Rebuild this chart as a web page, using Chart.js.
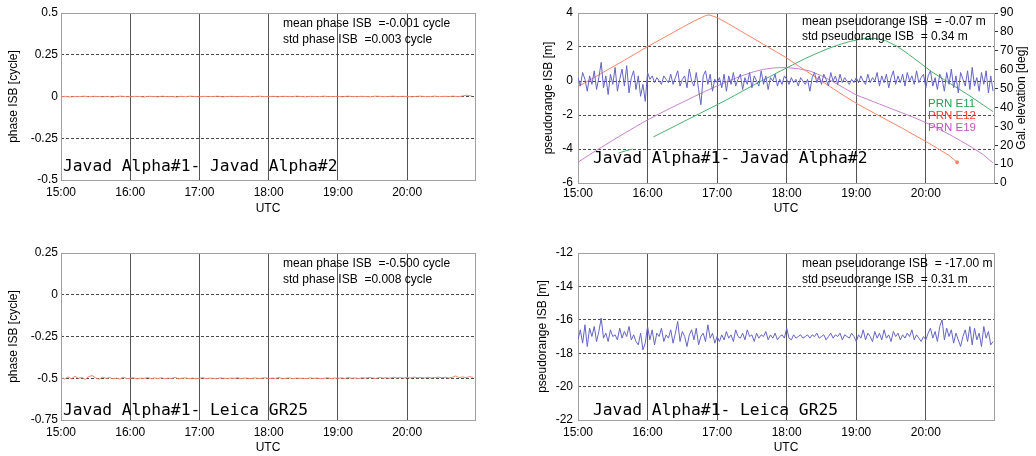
<!DOCTYPE html>
<html>
<head>
<meta charset="utf-8">
<script src="https://cdn.jsdelivr.net/npm/chart.js@4.4.1/dist/chart.umd.min.js"></script>
<style>
  body { margin: 0; background: #fff; }
  #wrap { position: relative; width: 1036px; height: 456px; }
  canvas { position: absolute; }
</style>
</head>
<body>
<div id="wrap">
  <canvas id="phase-alpha" width="518" height="228" style="left:0;top:0"></canvas>
  <canvas id="code-alpha" width="518" height="228" style="left:518px;top:0"></canvas>
  <canvas id="phase-leica" width="518" height="228" style="left:0;top:228px"></canvas>
  <canvas id="code-leica" width="518" height="228" style="left:518px;top:228px"></canvas>
</div>
<script>
// tick labels
const hourTicks = [15, 16, 17, 18, 19, 20];
const phaseTicksAlpha = [0.5, 0.25, 0, -0.25, -0.5];
const phaseTicksLeica = [0.25, 0, -0.25, -0.5, -0.75];
const codeTicksAlpha = [4, 2, 0, -2, -4, -6];
const codeTicksLeica = [-12, -14, -16, -18, -20, -22];
const elevTicks = [0, 10, 20, 30, 40, 50, 60, 70, 80, 90];

// phase ISB, Javad Alpha#1 - Javad Alpha#2 [cycle], one epoch every 4 min from 15:00
const phaseAlphaStep = 4;
const phaseAlpha = [
  -0.002, 0.001, -0.003, 0.000, -0.001, 0.002, -0.002, 0.001, 0.000, -0.002,
  0.001, -0.003, 0.000, 0.002, -0.001, -0.002, 0.001, 0.000, -0.003, 0.001,
  0.000, -0.002, 0.002, -0.001, 0.000, -0.003, 0.001, -0.001, 0.002, 0.000,
  -0.002, 0.001, -0.001, 0.000, 0.002, -0.002, 0.000, 0.001, -0.001, 0.000,
  0.001, -0.002, 0.000, 0.002, -0.001, 0.000, 0.001, -0.002, 0.001, 0.000,
  -0.001, 0.002, 0.000, -0.002, 0.001, 0.000, -0.001, 0.002, -0.001, 0.000,
  0.001, -0.002, 0.002, 0.000, -0.001, 0.001, 0.000, -0.002, 0.002, 0.001,
  -0.001, 0.000, 0.002, -0.001, 0.001, 0.000, -0.002, 0.001, 0.002, -0.001,
  0.000, 0.002, -0.001, 0.001, 0.000, 0.002, -0.001, 0.003, 0.008, 0.002
];

// phase ISB, Javad Alpha#1 - Leica GR25 [cycle], every 3 min
const phaseLeicaStep = 3;
const phaseLeica = [
  -0.497, -0.505, -0.492, -0.503, -0.488, -0.500, -0.495, -0.507, -0.490, -0.484,
  -0.498, -0.506, -0.493, -0.501, -0.496, -0.503, -0.499, -0.505, -0.494, -0.502,
  -0.500, -0.497, -0.504, -0.499, -0.501, -0.496, -0.503, -0.498, -0.502, -0.497,
  -0.503, -0.499, -0.501, -0.495, -0.504, -0.500, -0.498, -0.502, -0.499, -0.503,
  -0.500, -0.497, -0.502, -0.499, -0.501, -0.503, -0.498, -0.500, -0.502, -0.499,
  -0.501, -0.497, -0.503, -0.499, -0.500, -0.502, -0.498, -0.501, -0.500, -0.497,
  -0.502, -0.499, -0.501, -0.496, -0.503, -0.500, -0.498, -0.502, -0.499, -0.501,
  -0.500, -0.502, -0.498, -0.501, -0.499, -0.503, -0.500, -0.497, -0.502, -0.499,
  -0.500, -0.498, -0.501, -0.496, -0.500, -0.498, -0.502, -0.497, -0.499, -0.496,
  -0.498, -0.501, -0.495, -0.499, -0.497, -0.500, -0.494, -0.498, -0.496, -0.499,
  -0.495, -0.498, -0.493, -0.497, -0.495, -0.499, -0.494, -0.497, -0.496, -0.493,
  -0.497, -0.494, -0.498, -0.495, -0.486, -0.496, -0.492, -0.497, -0.490, -0.495
];

// pseudorange ISB [m], every 2 min
const codeStep = 2;
const codeAlpha = [
  0.2, -0.3, 0.5, 0.1, -0.6, 0.3, -0.2, 0.6, -0.5, 0.2,
  1.1, -0.4, 0.3, -0.8, 0.4, -0.2, 0.8, -0.6, 0.1, 0.7,
  -0.3, 0.9, -0.7, 0.2, 0.6, -0.5, 0.3, -0.9, -0.2, -1.2,
  0.5, 0.1, 0.3, -0.1, 0.2, 0.0, -0.2, 0.3, 0.1, -0.1,
  0.4, -0.2, 0.2, 0.6, -0.3, 0.1, 0.3, -0.4, 0.7, 0.0,
  -0.3, 0.5, -0.5, -1.4, 0.3, 0.6, -0.2, 0.4, -0.6, 0.1,
  -0.1, 0.2, -0.4, 0.4, -0.6, 0.3, -0.2, 0.5, -0.3, 0.1,
  0.4, -0.5, 0.2, -0.2, 0.5, -0.4, 0.3, 0.0, -0.3, 0.6,
  -0.2, 0.3, -0.5, 0.2, 0.0, 0.4, -0.3, 0.1, -0.2, 0.3,
  0.1, -0.2, 0.2, -0.1, 0.1, -0.3, 0.2, 0.0, -0.2, 0.1,
  -0.6, 0.2, 0.5, -0.1, 0.3, -0.2, 0.4, 0.1, -0.3, 0.5,
  0.0, 0.3, -0.2, 0.4, -0.1, 0.2, 0.0, -0.2, 0.1, -0.1,
  0.2, -0.1, 0.3, 0.0, -0.2, 0.4, -0.1, 0.2, 0.0, 0.5,
  -0.3, 0.3, -0.1, 0.4, -0.4, 0.2, 0.6, -0.2, 0.3, -0.1,
  0.4, -0.3, 0.5, 0.0, 0.3, -0.2, 0.6, -0.1, 0.2, 0.4,
  -0.4, 0.3, 0.6, -0.3, 0.2, -0.5, 0.4, 0.1, -0.6, 0.5,
  -0.2, 0.7, -0.4, 0.3, -0.7, 0.5, 0.1, -0.3, 0.6, -0.5,
  0.8, -0.3, 0.2, -0.6, 0.5, -0.2, 0.6, -0.7, 0.3, -0.6
];
const codeLeica = [
  -17.2, -16.6, -17.4, -16.3, -17.6, -16.5, -17.0, -16.4, -17.3, -16.7,
  -15.9, -17.1, -16.8, -17.3, -16.6, -17.0, -16.9, -17.2, -16.5, -17.1,
  -16.7, -17.0, -16.4, -17.2, -16.9, -17.3, -17.5, -16.8, -17.8, -17.4,
  -16.4, -17.2, -16.6, -17.5, -16.8, -17.0, -16.5, -17.3, -16.9, -17.1,
  -16.6, -17.4, -16.8, -16.1, -17.3, -16.7, -17.0, -17.6, -16.9, -16.6,
  -17.2, -16.5, -17.5, -17.0, -16.8, -17.3, -16.3, -17.1, -16.8, -17.4,
  -17.0, -17.3, -16.9, -17.2, -16.7, -17.1, -16.9, -17.3, -16.6, -17.0,
  -17.1, -16.8, -17.2, -16.6, -17.0, -16.9, -17.3, -16.8, -17.1, -16.9,
  -17.0, -16.7, -17.2, -16.9, -17.1, -16.8, -17.2, -17.0, -16.9, -17.1,
  -16.5, -17.1, -17.2, -16.9, -17.1, -17.0, -16.9, -17.1, -17.0, -16.9,
  -17.1, -16.9, -17.0, -16.8, -17.1, -17.0, -16.9, -17.2, -17.0, -16.8,
  -17.1, -16.9, -17.0, -16.8, -17.2, -16.9, -17.0, -17.1, -16.8, -17.0,
  -17.3, -16.9, -17.1, -16.6, -17.2, -16.8, -17.0, -17.3, -16.7, -17.1,
  -16.8, -17.2, -16.6, -17.1, -16.9, -17.3, -16.7, -17.0, -16.8, -17.2,
  -16.9, -17.1, -16.8, -17.0, -16.6, -17.2, -16.9, -17.1, -17.3, -17.0,
  -17.2, -16.8, -16.5, -17.1, -16.7, -17.3, -16.4, -16.0, -17.2, -16.5,
  -17.0, -16.6, -17.4, -16.8, -17.2, -17.6, -17.0, -16.6, -17.3, -16.4,
  -17.5, -16.5, -17.2, -16.8, -17.6, -16.4, -17.1, -16.7, -17.5, -17.3
];

// Galileo elevations [deg], minutes after 15:00
const e11Minutes = [35, 41, 47, 56, 65, 75, 85, 95, 105, 115, 125, 135, 145, 155, 165, 175, 185, 195, 205, 215, 225, 235, 245, 255, 265, 275, 285, 295, 305, 315, 325, 335, 345, 355, 358];
const e11Elev = [15.9, 17.0, 18.0, null, 24.4, 27.5, 30.6, 33.7, 36.8, 39.9, 43.0, 46.3, 49.7, 53.0, 56.2, 59.4, 62.5, 65.6, 68.4, 71.0, 73.2, 75.0, 76.3, 76.6, 75.4, 72.5, 68.2, 63.6, 58.9, 55.0, 51.1, 47.3, 43.2, 39.0, 37.8];
const e12Minutes = [0, 10, 20, 30, 40, 50, 60, 70, 80, 90, 100, 110, 113, 120, 130, 140, 150, 160, 170, 180, 190, 200, 210, 220, 230, 240, 250, 260, 270, 280, 290, 300, 310, 320, 327];
const e12Elev = [51.0, 54.5, 58.0, 61.5, 65.0, 68.6, 72.2, 75.6, 79.0, 82.4, 85.7, 88.6, 89.0, 87.6, 84.2, 80.6, 77.0, 73.4, 69.8, 66.2, 62.0, 58.0, 54.0, 50.0, 46.0, 42.2, 38.8, 35.5, 32.2, 28.9, 25.4, 22.0, 18.4, 14.6, 11.0];
const e19Minutes = [0, 10, 20, 30, 40, 50, 60, 70, 80, 90, 100, 110, 120, 130, 140, 150, 160, 170, 180, 190, 200, 210, 220, 230, 240, 250, 260, 270, 280, 290, 300, 310, 320, 330, 340, 350, 358];
const e19Elev = [11.0, 15.0, 18.8, 22.6, 26.3, 29.9, 33.4, 36.6, 39.7, 42.7, 45.7, 48.6, 51.4, 54.0, 56.5, 58.6, 60.2, 61.0, 61.1, 60.5, 59.3, 56.8, 53.6, 50.1, 46.6, 44.2, 41.8, 39.4, 37.0, 34.6, 32.0, 29.0, 25.8, 22.4, 18.8, 14.8, 10.6];

const startHour = 15;
const endHour = 20.98;

Chart.defaults.font.family = "'Liberation Sans', Arial, sans-serif";
Chart.defaults.font.size = 12;
Chart.defaults.color = '#000';
Chart.defaults.animation = false;

function epochs(values, stepMin) {
    return values.map((v, i) => ({ x: startHour + i * stepMin / 60, y: v }));
}
function pairs(minutes, values) {
    return minutes.map((m, i) => ({ x: startHour + m / 60, y: values[i] }));
}
function line(label, data, color, extra) {
    return Object.assign({
        label: label,
        data: data,
        borderColor: color,
        backgroundColor: color,
        borderWidth: 1,
        pointRadius: 0,
        tension: 0,
        spanGaps: false
    }, extra || {});
}

// box around the plot area
const frame = {
    id: 'frame',
    beforeDatasetsDraw(chart) {
        const { ctx, chartArea: a } = chart;
        ctx.save();
        ctx.strokeStyle = '#a0a0a0';
        ctx.lineWidth = 1;
        ctx.strokeRect(Math.round(a.left) + 0.5, Math.round(a.top) + 0.5,
            Math.round(a.right - a.left), Math.round(a.bottom - a.top));
        ctx.restore();
    }
};

// free text on top of the plot
function notes(items) {
    return {
        id: 'notes',
        afterDatasetsDraw(chart) {
            const ctx = chart.ctx;
            items.forEach(n => {
                ctx.save();
                ctx.font = n.font || "12px 'Liberation Sans', Arial, sans-serif";
                ctx.fillStyle = n.color || '#000';
                ctx.textAlign = n.align || 'left';
                ctx.textBaseline = n.baseline || 'alphabetic';
                ctx.translate(n.x, n.y);
                if (n.rotate) ctx.rotate(n.rotate);
                ctx.fillText(n.text, 0, 0);
                ctx.restore();
            });
        }
    };
}

const monoFont = "16.3px 'DejaVu Sans Mono', 'Liberation Mono', monospace";
const legendFont = "11.5px 'Liberation Sans', Arial, sans-serif";

function makeChart(id, datasets, o) {
    const yMin = o.yTicks[o.yTicks.length - 1];
    const yMax = o.yTicks[0];
    const scales = {
        x: {
            type: 'linear',
            min: startHour,
            max: endHour,
            afterBuildTicks: s => { s.ticks = hourTicks.map(v => ({ value: v })); },
            afterFit: s => { s.height = 228 - o.area.bottom; },
            grid: {
                drawTicks: false,
                color: c => (c.tick && c.tick.value === startHour) ? 'rgba(0,0,0,0)' : '#555'
            },
            border: { display: false },
            ticks: { padding: o.xTickPad, maxRotation: 0, autoSkip: false, callback: v => v + ':00' },
            title: { display: true, text: 'UTC', padding: { top: 0, bottom: o.xTitlePad } }
        },
        y: {
            type: 'linear',
            position: 'left',
            min: yMin,
            max: yMax,
            afterBuildTicks: s => { s.ticks = o.yTicks.map(v => ({ value: v })); },
            afterFit: s => { s.width = o.area.left; },
            grid: {
                drawTicks: false,
                color: c => (c.tick && (c.tick.value === yMin || c.tick.value === yMax)) ? 'rgba(0,0,0,0)' : '#4a4a4a'
            },
            border: { display: false, dash: [3, 2] },
            ticks: { padding: o.yTickPad, callback: v => String(v) },
            title: { display: true, text: o.yTitle, padding: { top: o.yTitlePad, bottom: 0 } }
        }
    };
    if (o.elevation) {
        scales.y2 = {
            type: 'linear',
            position: 'right',
            min: 0,
            max: 90,
            afterBuildTicks: s => { s.ticks = elevTicks.map(v => ({ value: v })); },
            afterFit: s => { s.width = 518 - o.area.right; },
            grid: { drawOnChartArea: false, drawTicks: true, tickLength: 4, color: '#333' },
            border: { display: false },
            ticks: { padding: 2, callback: v => String(v) }
        };
    }
    return new Chart(document.getElementById(id), {
        type: 'line',
        data: { datasets: datasets },
        options: {
            responsive: false,
            maintainAspectRatio: false,
            layout: {
                padding: { top: o.area.top, left: 0, bottom: 0, right: o.elevation ? 0 : 518 - o.area.right }
            },
            scales: scales,
            plugins: { legend: { display: false }, tooltip: { enabled: false } }
        },
        plugins: [frame, notes(o.notes)]
    });
}

// top left: phase ISB, Javad - Javad
makeChart('phase-alpha', [
    line('phase ISB', epochs(phaseAlpha, phaseAlphaStep), '#f0846e')
], {
    yTicks: phaseTicksAlpha, yTitle: 'phase ISB [cycle]', yTitlePad: 6, yTickPad: 3,
    area: { left: 61, right: 475, top: 13, bottom: 180 }, xTickPad: 5, xTitlePad: 12,
    notes: [
        { text: 'mean phase ISB  =-0.001 cycle', x: 283, y: 27 },
        { text: 'std phase ISB  =0.003 cycle', x: 283, y: 43 },
        { text: 'Javad Alpha#1- Javad Alpha#2', x: 63, y: 171, font: monoFont }
    ]
});

// top right: pseudorange ISB with satellite elevations
makeChart('code-alpha', [
    line('pseudorange ISB', epochs(codeAlpha, codeStep), '#6464c4'),
    line('PRN E11', pairs(e11Minutes, e11Elev), '#4cae6c', { yAxisID: 'y2' }),
    line('PRN E12', pairs(e12Minutes, e12Elev), '#f5866c', {
        yAxisID: 'y2',
        pointRadius: c => c.dataIndex === e12Elev.length - 1 ? 1.5 : 0
    }),
    line('PRN E19', pairs(e19Minutes, e19Elev), '#c783c9', { yAxisID: 'y2' })
], {
    yTicks: codeTicksAlpha, yTitle: 'pseudorange ISB [m]', yTitlePad: 23, yTickPad: 5,
    area: { left: 60, right: 476, top: 13, bottom: 183 }, xTickPad: 3, xTitlePad: 12,
    elevation: true,
    notes: [
        { text: 'mean pseudorange ISB  = -0.07 m', x: 284, y: 25 },
        { text: 'std pseudorange ISB  = 0.34 m', x: 284, y: 40 },
        { text: 'PRN E11', x: 410, y: 107, font: legendFont, color: '#22a052' },
        { text: 'PRN E12', x: 410, y: 119, font: legendFont, color: '#f03a30' },
        { text: 'PRN E19', x: 410, y: 131, font: legendFont, color: '#c050c4' },
        { text: 'Gal. elevation [deg]', x: 504, y: 98, align: 'center', baseline: 'middle', rotate: -Math.PI / 2 },
        { text: 'Javad Alpha#1- Javad Alpha#2', x: 75, y: 163, font: monoFont }
    ]
});

// bottom left: phase ISB, Javad - Leica
makeChart('phase-leica', [
    line('phase ISB', epochs(phaseLeica, phaseLeicaStep), '#f0846e')
], {
    yTicks: phaseTicksLeica, yTitle: 'phase ISB [cycle]', yTitlePad: 6, yTickPad: 3,
    area: { left: 61, right: 475, top: 25, bottom: 192 }, xTickPad: 5, xTitlePad: 1,
    notes: [
        { text: 'mean phase ISB  =-0.500 cycle', x: 283, y: 39 },
        { text: 'std phase ISB  =0.008 cycle', x: 283, y: 55 },
        { text: 'Javad Alpha#1- Leica GR25', x: 63, y: 187, font: monoFont }
    ]
});

// bottom right: pseudorange ISB, Javad - Leica
makeChart('code-leica', [
    line('pseudorange ISB', epochs(codeLeica, codeStep), '#6464c4')
], {
    yTicks: codeTicksLeica, yTitle: 'pseudorange ISB [m]', yTitlePad: 17, yTickPad: 5,
    area: { left: 60, right: 476, top: 25, bottom: 192 }, xTickPad: 5, xTitlePad: 1,
    notes: [
        { text: 'mean pseudorange ISB  = -17.00 m', x: 284, y: 39 },
        { text: 'std pseudorange ISB  = 0.31 m', x: 284, y: 55 },
        { text: 'Javad Alpha#1- Leica GR25', x: 75, y: 187, font: monoFont }
    ]
});
</script>
</body>
</html>
